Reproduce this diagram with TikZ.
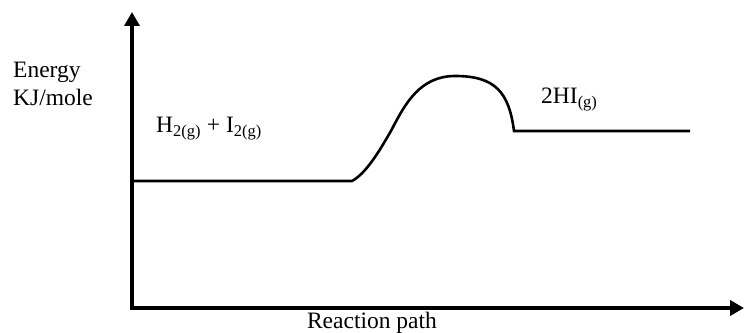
\documentclass[tikz,border=0pt]{standalone}
\usepackage{fontspec}
\setmainfont{Liberation Serif}
\usetikzlibrary{arrows.meta}

\begin{document}
\begin{tikzpicture}[x=1pt,y=1pt,>={Triangle[length=14pt,width=15pt]}]
\tikzset{
  axis/.style={->,draw=black,line width=4pt},
  level/.style={draw=black,line width=2.6pt},
  lab/.style={font=\fontsize{23.5}{28}\selectfont,inner sep=0pt,anchor=base west}
}
\useasboundingbox (0,0) rectangle (744,332);
\coordinate (origin) at (132,24);
\coordinate (ytop) at (132,320);
\coordinate (xend) at (744,24);
\coordinate (reacL) at (132,151);
\coordinate (reacR) at (352,151);
\coordinate (prodL) at (514,201);
\coordinate (prodR) at (690,201);
\draw[axis] ([yshift=-2pt]origin) -- (ytop);
\draw[axis] ([xshift=-2pt]origin) -- (xend);
\draw[level] (reacL) -- (reacR)
  .. controls (365,158) and (378,178) .. (392,203)
  .. controls (405,228) and (420,256) .. (455,256)
  .. controls (495,256) and (509,240) .. (prodL) -- (prodR);
\node[lab] (ylab) at (13,254) {Energy};
\node[lab] (yunit) at (13,226) {KJ/mole};
\node[lab] (reac) at (156,199) {H\textsubscript{2(g)} + I\textsubscript{2(g)}};
\node[lab] (prod) at (541,228) {2HI\textsubscript{(g)}};
\node[lab,anchor=base] (xlab) at (372,4) {Reaction path};
\end{tikzpicture}
\end{document}
